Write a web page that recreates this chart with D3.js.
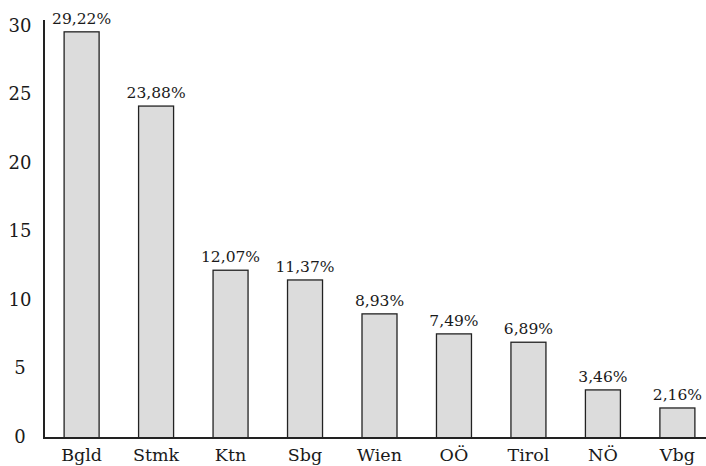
<!DOCTYPE html>
<html>
<head>
<meta charset="utf-8">
<script src="https://cdn.jsdelivr.net/npm/d3@7"></script>
<style>
  body { margin: 0; background: #fff; }
  text { font-family: "DejaVu Serif", "Liberation Serif", serif; fill: #1a1a1a; }
  .tick { font-size: 18px; }
  .cat { font-size: 17.5px; }
  .val { font-size: 15.5px; }
</style>
</head>
<body>
<div id="chart"></div>
<script>
// Daten
var regions = ["Bgld", "Stmk", "Ktn", "Sbg", "Wien", "OÖ", "Tirol", "NÖ", "Vbg"];
var values = [29.22, 23.88, 12.07, 11.37, 8.93, 7.49, 6.89, 3.46, 2.16];
var valueLabels = ["29,22%", "23,88%", "12,07%", "11,37%", "8,93%", "7,49%", "6,89%", "3,46%", "2,16%"];
var yTicks = [0, 5, 10, 15, 20, 25, 30];

var width = 706,
    height = 466;

var svg = d3.select("#chart").append("svg")
    .attr("width", width)
    .attr("height", height);

var x = d3.scaleBand()
    .domain(regions)
    .range([44, 715])
    .paddingInner(0.53)
    .paddingOuter(0.27);

var y = d3.scaleLinear()
    .domain([0, 30])
    .range([438, 21]);

// die Beschriftung der y-Achse sitzt etwas enger als die Balken
var yLabel = d3.scaleLinear()
    .domain([0, 30])
    .range([443, 31.5]);

// Balken
svg.selectAll("rect.bar")
    .data(values)
    .enter().append("rect")
    .attr("class", "bar")
    .attr("x", function(d, i) { return x(regions[i]); })
    .attr("y", function(d) { return y(d); })
    .attr("width", x.bandwidth())
    .attr("height", function(d) { return y(0) - y(d); })
    .attr("fill", "#dcdcdc")
    .attr("stroke", "#222")
    .attr("stroke-width", 1.3);

// Werte über den Balken
svg.selectAll("text.val")
    .data(values)
    .enter().append("text")
    .attr("class", "val")
    .attr("x", function(d, i) { return x(regions[i]) + x.bandwidth() / 2; })
    .attr("y", function(d) { return y(d) - 8; })
    .attr("text-anchor", "middle")
    .text(function(d, i) { return valueLabels[i]; });

// Achsen
svg.append("line")
    .attr("x1", 44).attr("y1", 20)
    .attr("x2", 44).attr("y2", y(0))
    .attr("stroke", "#222").attr("stroke-width", 2);

svg.append("line")
    .attr("x1", 43).attr("y1", y(0))
    .attr("x2", width).attr("y2", y(0))
    .attr("stroke", "#222").attr("stroke-width", 2);

// y Beschriftung
svg.selectAll("text.tick")
    .data(yTicks)
    .enter().append("text")
    .attr("class", "tick")
    .attr("x", 20)
    .attr("y", function(d) { return yLabel(d); })
    .attr("text-anchor", "middle")
    .text(function(d) { return d; });

// x Beschriftung
svg.selectAll("text.cat")
    .data(regions)
    .enter().append("text")
    .attr("class", "cat")
    .attr("x", function(d) { return x(d) + x.bandwidth() / 2; })
    .attr("y", 461)
    .attr("text-anchor", "middle")
    .text(function(d) { return d; });
</script>
</body>
</html>
